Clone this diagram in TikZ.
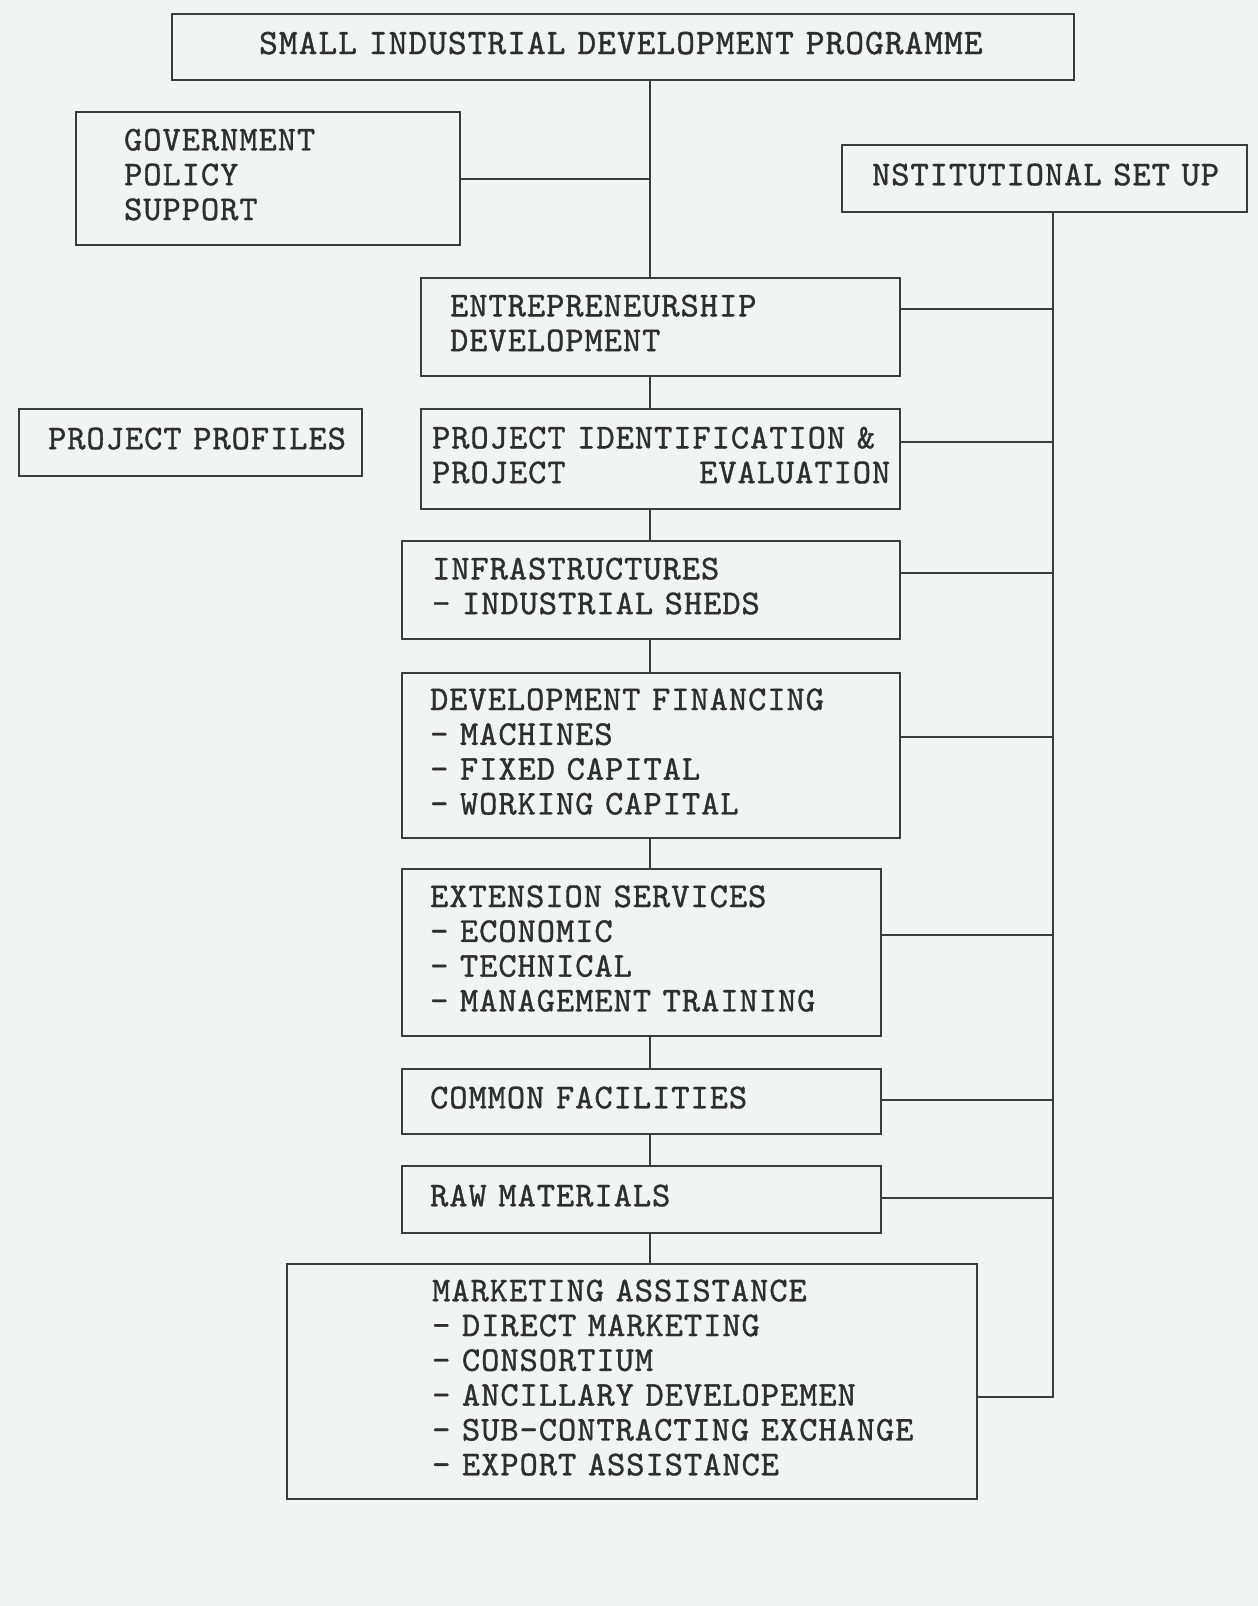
\documentclass[tikz,border=0pt]{standalone}
\usepackage{fontspec}
\newfontfamily\chartfont{lmmono10-regular}[Extension=.otf,FakeBold=1,LetterSpace=2.7]
\definecolor{paperc}{HTML}{F0F4F2}
\definecolor{inkc}{HTML}{2E2E2E}
\definecolor{linec}{HTML}{3C3C3C}
\tikzset{
  box/.style n args={3}{draw=linec, line width=1.1pt, text=inkc,
    anchor=north west, inner sep=0pt, align=left,
    minimum width=#1, text width=#1, minimum height=#2,
    font=\chartfont\fontsize{17.4}{17.4}\selectfont,
    execute at begin node={\leftskip=#3\relax},
    execute at end node={\par\kern4pt}},
  link/.style={draw=linec, line width=1pt},
}
\hfuzz=20pt

\begin{document}
\begin{tikzpicture}[x=0.5pt,y=-0.5pt]
  \fill[paperc] (0,0) rectangle (1258,1606);
  \useasboundingbox (0,0) rectangle (1258,1606);

  \node[box={451pt}{33pt}{43.5pt}, font=\chartfont\fontsize{17.9}{17.9}\selectfont] (sidp) at (171,13)
    {SMALL INDUSTRIAL DEVELOPMENT PROGRAMME};
  \node[box={192pt}{66.5pt}{24pt}] (gov) at (75,111) {GOVERNMENT\\POLICY\\SUPPORT};
  \node[box={202.5pt}{33.5pt}{15pt}] (inst) at (841,144) {NSTITUTIONAL~SET~UP};
  \node[box={239.5pt}{49pt}{14.5pt}] (ent) at (420,277) {ENTREPRENEURSHIP\\DEVELOPMENT};
  \node[box={171.5pt}{33.5pt}{14.5pt}] (prof) at (18,408) {PROJECT~PROFILES};
  \node[box={239.5pt}{50pt}{5.5pt}] (pid) at (420,408)
    {PROJECT~IDENTIFICATION~\&\\PROJECT\phantom{XXXXXXX}EVALUATION};
  \node[box={249pt}{49pt}{15pt}] (infra) at (401,540) {INFRASTRUCTURES\\- INDUSTRIAL SHEDS};
  \node[box={249pt}{82.5pt}{14pt}] (devfin) at (401,672)
    {DEVELOPMENT FINANCING\\- MACHINES\\- FIXED CAPITAL\\- WORKING CAPITAL};
  \node[box={239.5pt}{83.5pt}{14pt}] (ext) at (401,868)
    {EXTENSION SERVICES\\- ECONOMIC\\- TECHNICAL\\- MANAGEMENT TRAINING};
  \node[box={239.5pt}{32.5pt}{14pt}] (common) at (401,1068) {COMMON FACILITIES};
  \node[box={239.5pt}{33.5pt}{14pt}] (raw) at (401,1165) {RAW MATERIALS};
  \node[box={345pt}{117.5pt}{72.5pt}] (mkt) at (286,1263)
    {MARKETING ASSISTANCE\\- DIRECT MARKETING\\- CONSORTIUM\\- ANCILLARY DEVELOPEMEN\\- SUB-CONTRACTING EXCHANGE\\- EXPORT ASSISTANCE};

  % main line and the institutional line
  \coordinate (tk) at (650,0);
  \coordinate (rt) at (1053,0);
  \coordinate (mkend) at (1053,1397);

  \draw[link] (sidp.south -| tk) -- (ent.north -| tk);
  \draw[link] (gov.east) -- (gov.east -| tk);
  \foreach \a/\b in {ent/pid, pid/infra, infra/devfin, devfin/ext, ext/common, common/raw, raw/mkt}
    \draw[link] (\a.south -| tk) -- (\b.north -| tk);

  \draw[link] (inst.south -| rt) -- (mkend) -- (mkend -| mkt.east);
  \foreach \n/\y in {ent/309, pid/442, infra/573, devfin/737, ext/935, common/1100, raw/1198}
    \draw[link] (\n.east |- 0,\y) -- (rt |- 0,\y);
\end{tikzpicture}
\end{document}
